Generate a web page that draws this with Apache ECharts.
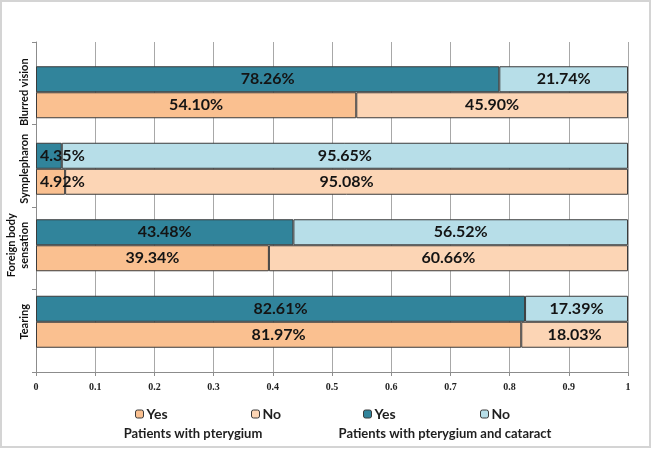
<!DOCTYPE html>
<html>
<head>
<meta charset="utf-8">
<script src="https://cdn.jsdelivr.net/npm/echarts@6/dist/echarts.min.js"></script>
<style>html,body{margin:0;padding:0;background:#fff}#c{width:652px;height:449px}</style>
</head>
<body>
<div id="c"></div>
<script>
var categories = ['Blurred vision', 'Symplepharon', 'Foreign body\nsensation', 'Tearing'];
var pterygiumYes = [54.10, 4.92, 39.34, 81.97];
var pterygiumNo = [45.90, 95.08, 60.66, 18.03];
var cataractYes = [78.26, 4.35, 43.48, 82.61];
var cataractNo = [21.74, 95.65, 56.52, 17.39];
var xTicks = ['0', '0.1', '0.2', '0.3', '0.4', '0.5', '0.6', '0.7', '0.8', '0.9', '1'];

var chart = echarts.init(document.getElementById('c'), null, {renderer: 'canvas'});

function mk(arr) {
  return arr.map(function (v) {
    var d = {value: v / 100, pct: v};
    if (v < 10) d.label = {position: 'insideLeft', distance: 4};
    return d;
  });
}
var lbl = {
  show: true, position: 'inside', color: '#141414',
  fontFamily: 'Lato', fontWeight: 'bold', fontSize: 16,
  formatter: function (p) { return p.data.pct.toFixed(2) + '%'; }
};
function series(name, arr, color, stack) {
  return {
    name: name, type: 'bar', stack: stack, xAxisIndex: 1, yAxisIndex: 1,
    barWidth: 26, barGap: '0%',
    itemStyle: {color: color, borderColor: '#3b3b3b', borderWidth: 1},
    label: lbl, data: mk(arr), z: 3
  };
}
var colors = {pYes: '#FAC090', pNo: '#FCD5B5', cYes: '#31849B', cNo: '#B7DEE8'};
function legendAt(name, left) {
  return {
    left: left, top: 402, itemWidth: 8, itemHeight: 8,
    data: [{name: name, itemStyle: {color: colors[name], borderColor: '#3b3b3b', borderWidth: 1}}],
    selectedMode: false,
    formatter: function (n) { return n.slice(1); },
    textStyle: {color: '#1e1e1e', fontFamily: 'Lato', fontWeight: 'bold', fontSize: 14, padding: [0, 0, 0, -2]}
  };
}

var option = {
  animation: false,
  backgroundColor: '#fff',
  grid: [
    {left: 36, right: 24, top: 42, bottom: 77},
    {left: 36, right: 24, top: 54, bottom: 89}
  ],
  xAxis: [
    {
      gridIndex: 0, type: 'value', min: 0, max: 1, interval: 0.1,
      axisLine: {show: true, lineStyle: {color: '#8c8c8c'}},
      axisTick: {show: true, length: 4, lineStyle: {color: '#8c8c8c'}},
      splitLine: {show: true, lineStyle: {color: '#a8a8a8', width: 1}},
      axisLabel: {
        margin: 10, color: '#222', fontFamily: 'Liberation Serif', fontWeight: 'bold', fontSize: 10,
        formatter: function (v) { return xTicks[Math.round(v * 10)]; }
      }
    },
    {gridIndex: 1, type: 'value', min: 0, max: 1, show: false}
  ],
  yAxis: [
    {
      gridIndex: 0, type: 'category', data: categories, inverse: true,
      axisLine: {show: true, lineStyle: {color: '#8c8c8c'}},
      axisTick: {show: true, length: 4, lineStyle: {color: '#8c8c8c'}},
      axisLabel: {show: false}
    },
    {
      gridIndex: 1, type: 'category', data: categories, inverse: true,
      axisLine: {show: false}, axisTick: {show: false},
      axisLabel: {
        interval: 0, rotate: 90, margin: 5, color: '#111', fontFamily: 'Lato', fontWeight: 'bold',
        fontSize: 11, lineHeight: 13
      }
    }
  ],
  legend: [
    legendAt('pYes', 130),
    legendAt('pNo', 246),
    legendAt('cYes', 358),
    legendAt('cNo', 475)
  ],
  graphic: [
    {type: 'rect', shape: {x: 1, y: 1, width: 649, height: 446}, style: {fill: 'none', stroke: '#d4d4d4', lineWidth: 2}, silent: true},
    {type: 'text', x: 193, y: 434, style: {text: 'Patients with pterygium', x: 0, y: 0, textAlign: 'center', textVerticalAlign: 'middle', fill: '#1e1e1e', font: 'bold 13px Lato'}},
    {type: 'text', x: 445, y: 434, style: {text: 'Patients with pterygium and cataract', x: 0, y: 0, textAlign: 'center', textVerticalAlign: 'middle', fill: '#1e1e1e', font: 'bold 13px Lato'}}
  ],
  series: [
    series('cYes', cataractYes, '#31849B', 'c'),
    series('cNo', cataractNo, '#B7DEE8', 'c'),
    series('pYes', pterygiumYes, '#FAC090', 'p'),
    series('pNo', pterygiumNo, '#FCD5B5', 'p')
  ]
};
chart.setOption(option);
</script>
</body>
</html>
